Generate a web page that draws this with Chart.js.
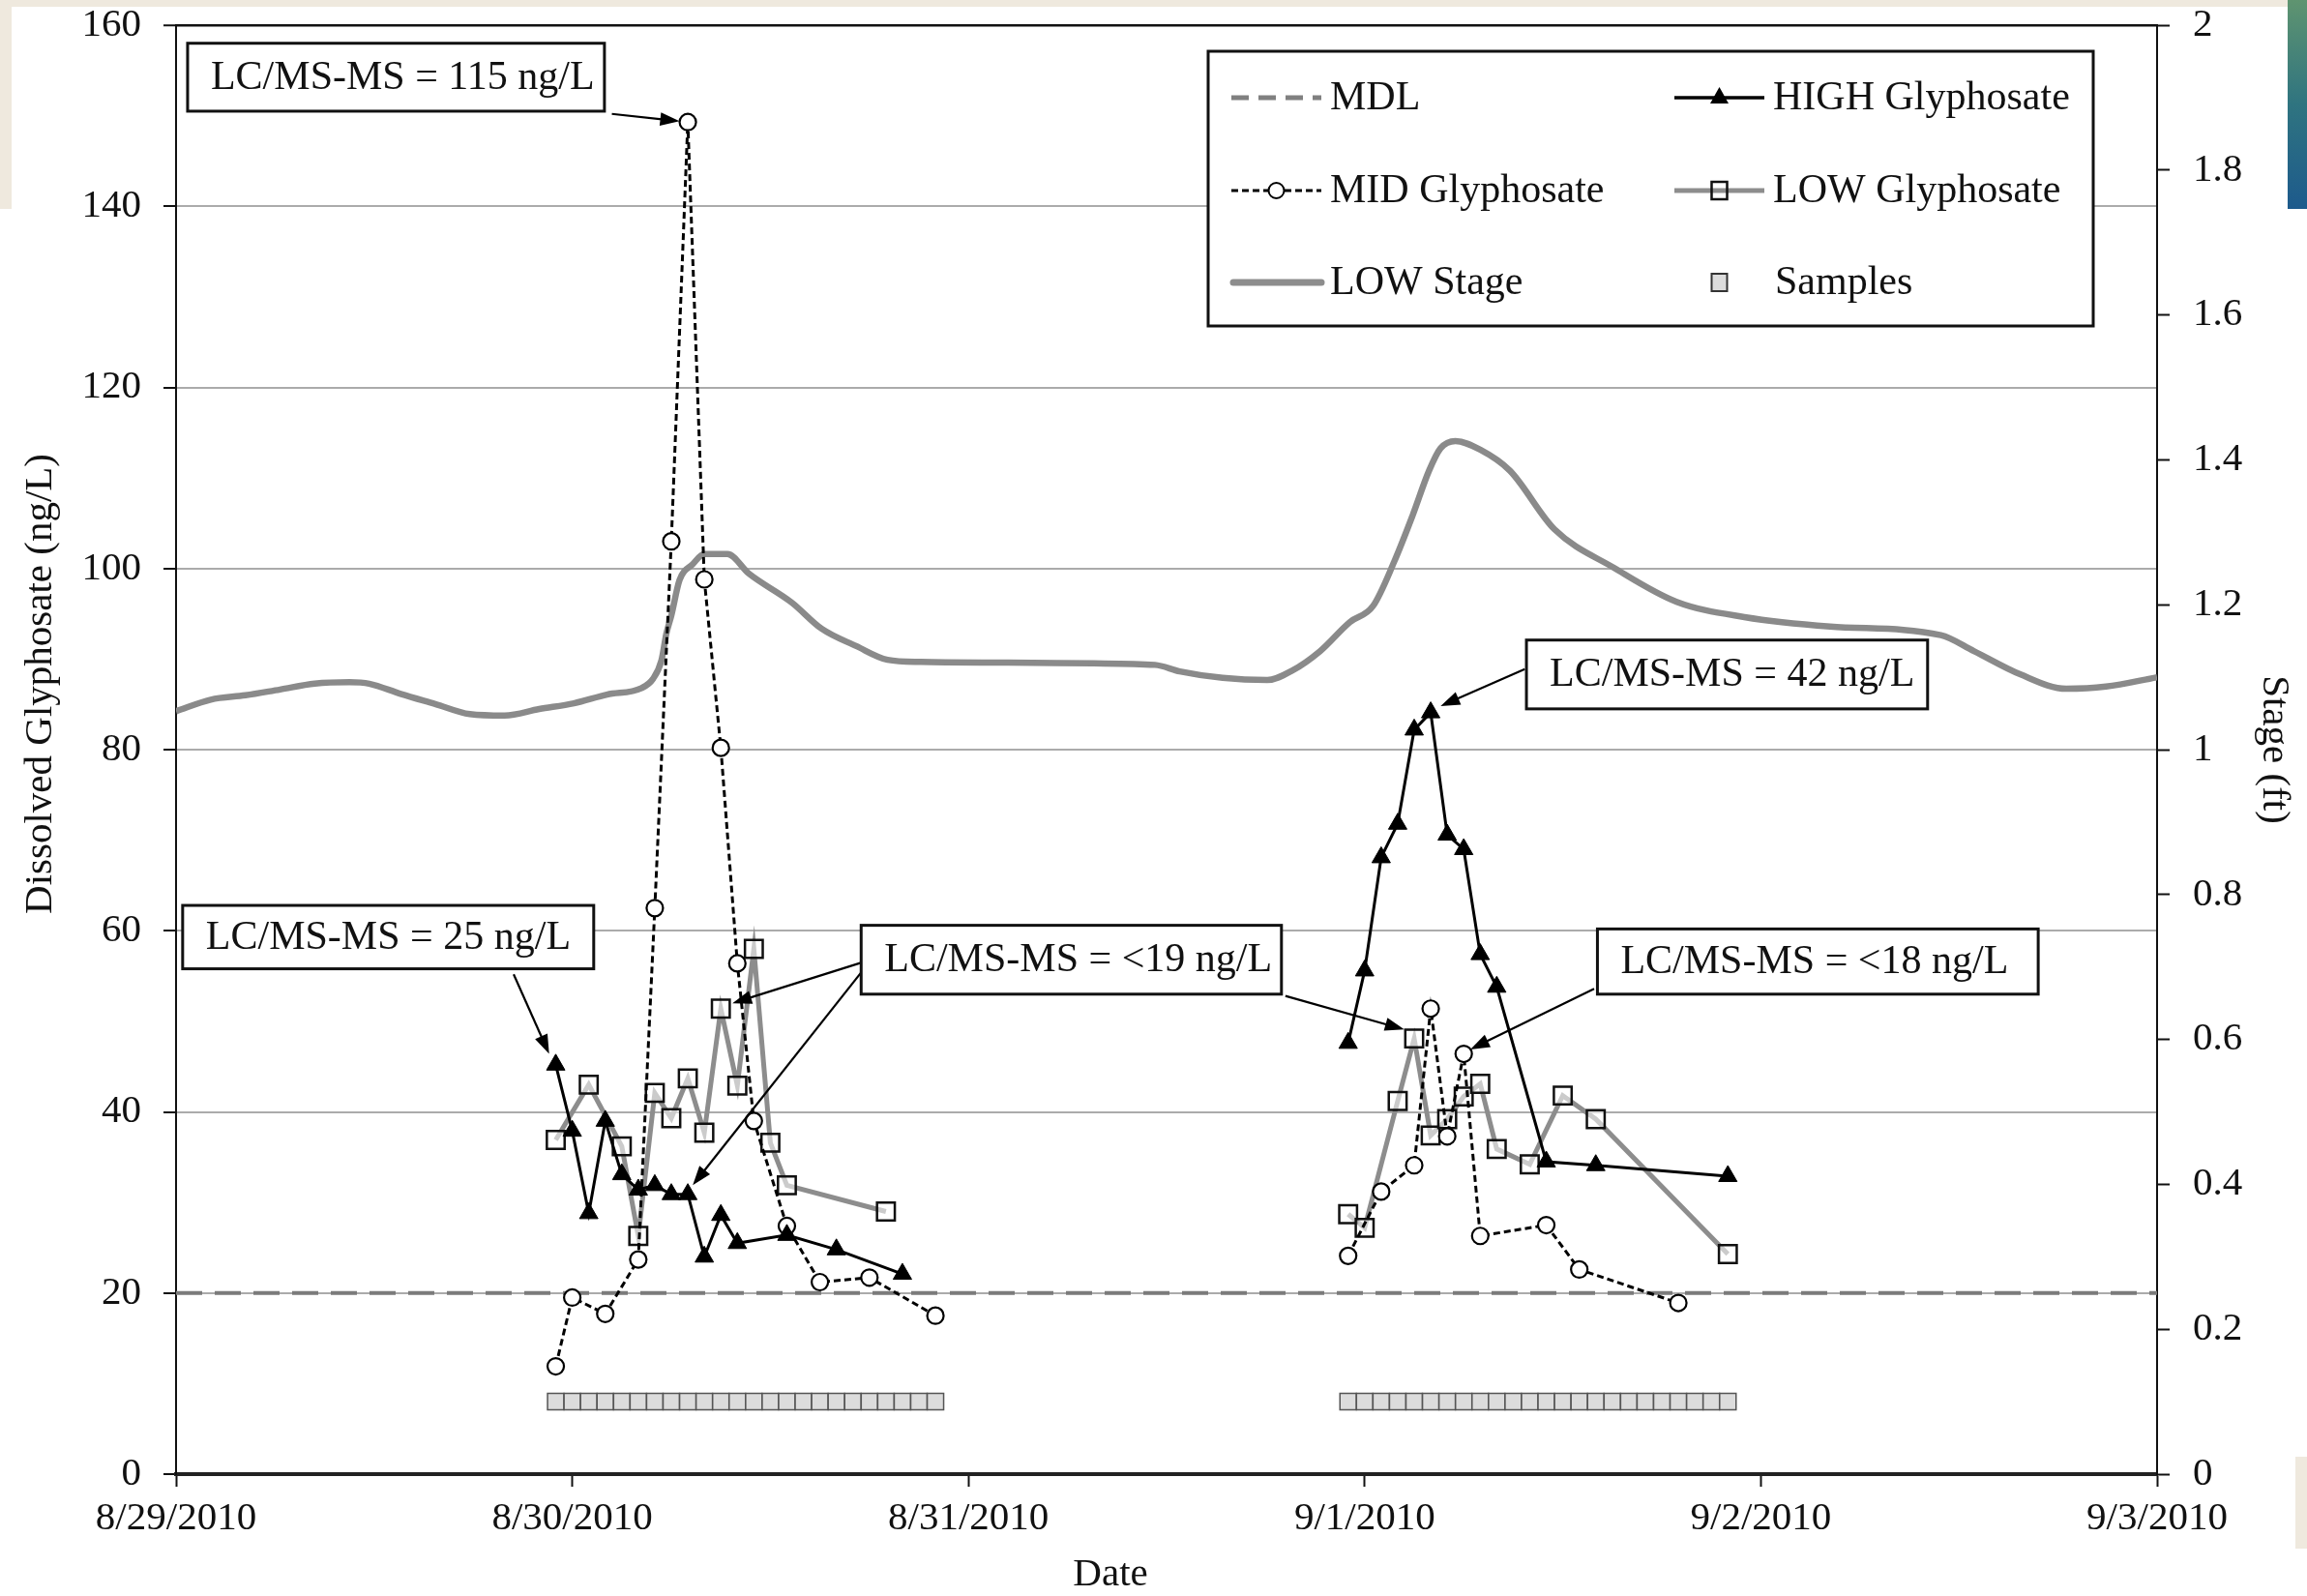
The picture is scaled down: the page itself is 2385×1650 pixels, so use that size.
<!DOCTYPE html>
<html>
<head>
<meta charset="utf-8">
<script src="https://cdn.jsdelivr.net/npm/chart.js@4.4.1/dist/chart.umd.min.js"></script>
<style>
  html, body { margin: 0; padding: 0; background: #ffffff; }
  #wrap { width: 2385px; height: 1650px; position: relative; }
  canvas { display: block; }
</style>
</head>
<body>
<div id="wrap"><canvas id="chart" width="2385" height="1650"></canvas></div>
<script>
// ---------------- DATA (hours since 8/29/2010 00:00) ----------------
const dateTickLabels = ['8/29/2010', '8/30/2010', '8/31/2010', '9/1/2010', '9/2/2010', '9/3/2010'];

const highHoursA  = [23, 24, 25, 26, 27, 28, 29, 30, 31, 32, 33, 34, 37, 40, 44];
const highValuesA = [45.2, 37.9, 28.8, 39.0, 33.1, 31.4, 31.9, 30.9, 30.9, 24.0, 28.6, 25.5, 26.4, 24.8, 22.1];
const highHoursB  = [71, 72, 73, 74, 75, 76, 77, 78, 79, 80, 83, 86, 94];
const highValuesB = [47.6, 55.6, 68.1, 71.8, 82.2, 84.1, 70.6, 69.0, 57.4, 53.8, 34.5, 34.1, 32.9];

const midHoursA  = [23, 24, 26, 28, 29, 30, 31, 32, 33, 34, 35, 37, 39, 42, 46];
const midValuesA = [11.9, 19.5, 17.7, 23.7, 62.5, 103.0, 149.3, 98.8, 80.2, 56.4, 39.0, 27.4, 21.2, 21.7, 17.5];
const midHoursB  = [71, 73, 75, 76, 77, 78, 79, 83, 85, 91];
const midValuesB = [24.1, 31.2, 34.1, 51.4, 37.3, 46.4, 26.3, 27.5, 22.6, 18.9];

const lowHoursA  = [23, 25, 27, 28, 29, 30, 31, 32, 33, 34, 35, 36, 37, 43];
const lowValuesA = [36.9, 43.0, 36.2, 26.3, 42.1, 39.3, 43.7, 37.7, 51.4, 42.9, 58.0, 36.6, 31.9, 29.0];
const lowHoursB  = [71, 72, 74, 75, 76, 77, 78, 79, 80, 82, 84, 86, 94];
const lowValuesB = [28.7, 27.2, 41.2, 48.1, 37.4, 39.2, 41.7, 43.1, 35.9, 34.2, 41.8, 39.2, 24.3];

const sampleHours = [23, 24, 25, 26, 27, 28, 29, 30, 31, 32, 33, 34, 35, 36, 37, 38, 39, 40, 41, 42, 43, 44, 45, 46,
                     71, 72, 73, 74, 75, 76, 77, 78, 79, 80, 81, 82, 83, 84, 85, 86, 87, 88, 89, 90, 91, 92, 93, 94];
const sampleLevels = [8, 8, 8, 8, 8, 8, 8, 8, 8, 8, 8, 8, 8, 8, 8, 8, 8, 8, 8, 8, 8, 8, 8, 8,
                      8, 8, 8, 8, 8, 8, 8, 8, 8, 8, 8, 8, 8, 8, 8, 8, 8, 8, 8, 8, 8, 8, 8, 8];

const mdlHours  = [0, 120];
const mdlValues = [20, 20];

const stageHours  = [0, 2.1, 4.2, 6.3, 8.4, 10.5, 11.7, 13.6, 15.7, 17.8, 19.9, 22.0, 24.1, 26.1, 28.2, 28.9, 29.4,
                     29.7, 30.0, 30.5, 31.3, 32.0, 33.4, 34.7, 37.3, 39.1, 41.2, 43.1, 45.1, 50.4, 55.6, 59.3, 60.8,
                     63.4, 66.1, 67.6, 69.3, 71.1, 72.5, 73.8, 74.9, 75.9, 76.6, 77.5, 79.0, 80.8, 83.5, 87.1, 90.9,
                     95.0, 100.2, 106.9, 108.9, 111.7, 114.5, 116.9, 120.0];
const stageValues = [1.053, 1.069, 1.075, 1.083, 1.091, 1.093, 1.091, 1.077, 1.063, 1.049, 1.047, 1.056, 1.064, 1.076,
                     1.085, 1.098, 1.123, 1.160, 1.185, 1.234, 1.256, 1.270, 1.270, 1.243, 1.203, 1.167, 1.143, 1.124,
                     1.121, 1.120, 1.119, 1.117, 1.108, 1.099, 1.096, 1.109, 1.136, 1.176, 1.198, 1.260, 1.323, 1.385,
                     1.416, 1.426, 1.414, 1.385, 1.304, 1.251, 1.204, 1.183, 1.170, 1.158, 1.136, 1.104, 1.084, 1.087, 1.100];

const legendNames = ['MDL', 'HIGH Glyphosate', 'MID Glyphosate', 'LOW Glyphosate', 'LOW Stage', 'Samples'];
const axisTitles = { x: 'Date', y: 'Dissolved Glyphosate (ng/L)', y2: 'Stage (ft)' };

// Callout boxes: [leftHour, topValue, rightHour, bottomValue]; arrows: [fromHour, fromValue, toHour, toValue]
const callouts = [
  { text: 'LC/MS-MS = 115 ng/L', box: [0.7, 158.0, 25.95, 150.5], arrows: [[26.4, 150.2, 30.5, 149.4]] },
  { text: 'LC/MS-MS = 25 ng/L',  box: [0.4, 62.8, 25.3, 55.8],    arrows: [[20.45, 55.2, 22.6, 46.4]] },
  { text: 'LC/MS-MS = <19 ng/L', box: [41.5, 60.6, 66.96, 53.0],  arrows: [[41.9, 56.7, 33.7, 52.0], [41.5, 55.4, 31.3, 31.9], [67.2, 52.8, 74.4, 49.1]] },
  { text: 'LC/MS-MS = 42 ng/L',  box: [81.8, 92.1, 106.1, 84.5],  arrows: [[81.7, 88.9, 76.6, 84.8]] },
  { text: 'LC/MS-MS = <18 ng/L', box: [86.1, 60.2, 112.8, 53.0],  arrows: [[85.9, 53.6, 78.4, 46.9]] }
];

// ---------------- helpers ----------------
function pts(hours, values) { return hours.map((h, i) => ({ x: h, y: values[i] })); }
function twoEvents(hA, vA, hB, vB) { return [...pts(hA, vA), { x: (hA[hA.length - 1] + hB[0]) / 2, y: null }, ...pts(hB, vB)]; }

const FONT = '"Liberation Serif", "Times New Roman", serif';
const GRAY_LINE = '#8d8d8d';

function noScalePadding(s) { s.paddingTop = 0; s.paddingBottom = 0; s.paddingLeft = 0; s.paddingRight = 0; }

function drawArrow(ctx, x1, y1, x2, y2) {
  const ang = Math.atan2(y2 - y1, x2 - x1);
  const hl = 20, hw = 7;
  ctx.beginPath();
  ctx.moveTo(x1, y1);
  ctx.lineTo(x2 - Math.cos(ang) * hl * 0.8, y2 - Math.sin(ang) * hl * 0.8);
  ctx.lineWidth = 2.2;
  ctx.strokeStyle = '#000';
  ctx.stroke();
  ctx.beginPath();
  ctx.moveTo(x2, y2);
  ctx.lineTo(x2 - Math.cos(ang) * hl + Math.sin(ang) * hw, y2 - Math.sin(ang) * hl - Math.cos(ang) * hw);
  ctx.lineTo(x2 - Math.cos(ang) * hl - Math.sin(ang) * hw, y2 - Math.sin(ang) * hl + Math.cos(ang) * hw);
  ctx.closePath();
  ctx.fillStyle = '#000';
  ctx.fill();
}

const backgroundPlugin = {
  id: 'pageBackground',
  beforeDraw(chart) {
    const ctx = chart.ctx;
    ctx.save();
    ctx.fillStyle = '#ffffff';
    ctx.fillRect(0, 0, chart.width, chart.height);
    // scan artefacts of the original figure
    ctx.fillStyle = '#efe9de';
    ctx.fillRect(0, 0, chart.width, 7);
    ctx.fillRect(0, 0, 12, 216);
    ctx.fillRect(chart.width - 12, 1506, 12, 95);
    const g = ctx.createLinearGradient(0, 0, 0, 216);
    g.addColorStop(0, '#5f9470');
    g.addColorStop(0.5, '#2f7480');
    g.addColorStop(1, '#1d5a8c');
    ctx.fillStyle = g;
    ctx.fillRect(chart.width - 20, 0, 20, 216);
    ctx.restore();
  }
};

const axisTitlePlugin = {
  id: 'axisTitles',
  afterDraw(chart) {
    const { ctx, chartArea } = chart;
    ctx.save();
    ctx.font = '41px ' + FONT;
    ctx.fillStyle = '#111';
    ctx.textAlign = 'center';
    ctx.textBaseline = 'middle';
    // left title
    ctx.save();
    ctx.translate(chartArea.left - 140, chartArea.top + chartArea.height * 0.4546);
    ctx.rotate(-Math.PI / 2);
    ctx.fillText(axisTitles.y, 0, 0);
    ctx.restore();
    // right title
    ctx.save();
    ctx.translate(chartArea.right + 121, chartArea.top + chartArea.height * 0.5);
    ctx.rotate(Math.PI / 2);
    ctx.fillText(axisTitles.y2, 0, 0);
    ctx.restore();
    // bottom title
    ctx.fillText(axisTitles.x, chartArea.left + chartArea.width * 0.4717, chartArea.bottom + 104);
    ctx.restore();
  }
};

const calloutPlugin = {
  id: 'callouts',
  afterDatasetsDraw(chart) {
    const { ctx } = chart;
    const xs = chart.scales.x, ys = chart.scales.y;
    ctx.save();
    callouts.forEach(c => {
      c.arrows.forEach(a => drawArrow(ctx, xs.getPixelForValue(a[0]), ys.getPixelForValue(a[1]),
                                           xs.getPixelForValue(a[2]), ys.getPixelForValue(a[3])));
    });
    callouts.forEach(c => {
      const l = xs.getPixelForValue(c.box[0]), t = ys.getPixelForValue(c.box[1]);
      const r = xs.getPixelForValue(c.box[2]), b = ys.getPixelForValue(c.box[3]);
      ctx.fillStyle = '#ffffff';
      ctx.fillRect(l, t, r - l, b - t);
      ctx.lineWidth = 3;
      ctx.strokeStyle = '#111';
      ctx.strokeRect(l, t, r - l, b - t);
      ctx.fillStyle = '#111';
      ctx.font = '42px ' + FONT;
      ctx.textAlign = 'left';
      ctx.textBaseline = 'middle';
      ctx.fillText(c.text, l + 24, (t + b) / 2 + 1);
    });
    ctx.restore();
  }
};

const legendPlugin = {
  id: 'customLegend',
  afterDraw(chart) {
    const { ctx, chartArea } = chart;
    const L = chartArea.right - 981, T = chartArea.top + 27, W = 915, H = 284;
    ctx.save();
    ctx.fillStyle = '#fff';
    ctx.fillRect(L, T, W, H);
    ctx.lineWidth = 3;
    ctx.strokeStyle = '#111';
    ctx.strokeRect(L, T, W, H);
    const rows = [T + 48, T + 144, T + 239];
    const c1 = L + 24, c2 = L + 482, sw = 93;
    ctx.font = '42px ' + FONT;
    ctx.fillStyle = '#111';
    ctx.textAlign = 'left';
    ctx.textBaseline = 'middle';
    // MDL
    ctx.setLineDash([18, 10]); ctx.lineWidth = 5; ctx.strokeStyle = '#808080';
    ctx.beginPath(); ctx.moveTo(c1, rows[0]); ctx.lineTo(c1 + sw, rows[0]); ctx.stroke();
    ctx.setLineDash([]);
    ctx.fillText(legendNames[0], c1 + sw + 9, rows[0] + 1);
    // HIGH
    ctx.lineWidth = 3.5; ctx.strokeStyle = '#000';
    ctx.beginPath(); ctx.moveTo(c2, rows[0]); ctx.lineTo(c2 + sw, rows[0]); ctx.stroke();
    const cx2 = c2 + sw / 2;
    ctx.beginPath(); ctx.moveTo(cx2, rows[0] - 11); ctx.lineTo(cx2 + 9.5, rows[0] + 6); ctx.lineTo(cx2 - 9.5, rows[0] + 6); ctx.closePath();
    ctx.fillStyle = '#000'; ctx.fill();
    ctx.fillStyle = '#111';
    ctx.fillText(legendNames[1], c2 + sw + 9, rows[0] + 1);
    // MID
    ctx.setLineDash([7, 4]); ctx.lineWidth = 3; ctx.strokeStyle = '#000';
    ctx.beginPath(); ctx.moveTo(c1, rows[1]); ctx.lineTo(c1 + sw, rows[1]); ctx.stroke();
    ctx.setLineDash([]);
    ctx.beginPath(); ctx.arc(c1 + sw / 2, rows[1], 8, 0, Math.PI * 2);
    ctx.fillStyle = '#fff'; ctx.fill(); ctx.lineWidth = 2; ctx.stroke();
    ctx.fillStyle = '#111';
    ctx.fillText(legendNames[2], c1 + sw + 9, rows[1] + 1);
    // LOW Glyphosate
    ctx.lineWidth = 5; ctx.strokeStyle = GRAY_LINE;
    ctx.beginPath(); ctx.moveTo(c2, rows[1]); ctx.lineTo(c2 + sw, rows[1]); ctx.stroke();
    ctx.lineWidth = 2.5; ctx.strokeStyle = '#111';
    ctx.strokeRect(cx2 - 8, rows[1] - 9, 16, 18);
    ctx.fillText(legendNames[3], c2 + sw + 9, rows[1] + 1);
    // LOW Stage
    ctx.lineWidth = 7; ctx.strokeStyle = GRAY_LINE; ctx.lineCap = 'round';
    ctx.beginPath(); ctx.moveTo(c1 + 2, rows[2]); ctx.lineTo(c1 + sw, rows[2]); ctx.stroke();
    ctx.lineCap = 'butt';
    ctx.fillText(legendNames[4], c1 + sw + 9, rows[2] + 1);
    // Samples
    ctx.fillStyle = '#dcdcdc'; ctx.fillRect(cx2 - 8, rows[2] - 9, 16, 18);
    ctx.lineWidth = 2; ctx.strokeStyle = '#333'; ctx.strokeRect(cx2 - 8, rows[2] - 9, 16, 18);
    ctx.fillStyle = '#111';
    ctx.fillText(legendNames[5], c2 + sw + 11, rows[2] + 1);
    ctx.restore();
  }
};

// ---------------- CHART ----------------
Chart.defaults.font.family = FONT;
Chart.defaults.color = '#111';

new Chart(document.getElementById('chart'), {
  type: 'line',
  data: {
    datasets: [
      {
        label: 'HIGH Glyphosate', order: 1,
        data: twoEvents(highHoursA, highValuesA, highHoursB, highValuesB),
        borderColor: '#000', borderWidth: 3, spanGaps: false,
        pointStyle: 'triangle', pointRadius: 11, pointBackgroundColor: '#000', pointBorderColor: '#000', pointBorderWidth: 1
      },
      {
        label: 'MID Glyphosate', order: 2,
        data: twoEvents(midHoursA, midValuesA, midHoursB, midValuesB),
        borderColor: '#000', borderWidth: 3, borderDash: [7, 4], spanGaps: false,
        pointStyle: 'circle', pointRadius: 8.5, pointBackgroundColor: '#fff', pointBorderColor: '#000', pointBorderWidth: 2.2
      },
      {
        label: 'LOW Glyphosate', order: 3,
        data: twoEvents(lowHoursA, lowValuesA, lowHoursB, lowValuesB),
        borderColor: GRAY_LINE, borderWidth: 5, spanGaps: false,
        pointStyle: 'rect', pointRadius: 13, pointBackgroundColor: 'rgba(255,255,255,0.55)', pointBorderColor: '#111', pointBorderWidth: 2.5
      },
      {
        label: 'Samples', order: 4,
        data: pts(sampleHours, sampleLevels),
        showLine: false,
        pointStyle: 'rect', pointRadius: 12, pointBackgroundColor: '#dcdcdc', pointBorderColor: '#555', pointBorderWidth: 1.5
      },
      {
        label: 'MDL', order: 5,
        data: pts(mdlHours, mdlValues),
        borderColor: '#7b7b7b', borderWidth: 4, borderDash: [27, 13], pointRadius: 0
      },
      {
        label: 'LOW Stage', order: 6, yAxisID: 'y2',
        data: pts(stageHours, stageValues),
        borderColor: '#8a8a8a', borderWidth: 6.5, pointRadius: 0, cubicInterpolationMode: 'monotone'
      }
    ]
  },
  options: {
    responsive: false,
    animation: false,
    devicePixelRatio: 1,
    layout: { padding: { top: 26, left: 0, right: 0, bottom: 0 } },
    plugins: { legend: { display: false }, tooltip: { enabled: false } },
    scales: {
      x: {
        type: 'linear', min: 0, max: 120,
        afterFit: s => { s.height = 126; noScalePadding(s); },
        ticks: {
          stepSize: 24, padding: 9, maxRotation: 0, autoSkip: false,
          font: { size: 41 }, color: '#111',
          callback: v => dateTickLabels[Math.round(v / 24)]
        },
        grid: { display: true, drawOnChartArea: false, drawTicks: true, tickLength: 13, tickColor: '#111', tickWidth: 2 },
        border: { display: true, color: '#222', width: 4 },
        title: { display: false, text: axisTitles.x }
      },
      y: {
        position: 'left', min: 0, max: 160,
        afterFit: s => { s.width = 182; noScalePadding(s); },
        ticks: { stepSize: 20, padding: 23, font: { size: 41 }, color: '#111' },
        grid: {
          display: true, drawOnChartArea: true, drawTicks: true, tickLength: 13,
          color: ctx => (ctx.tick && ctx.tick.value === 160) ? '#111' : '#ababab',
          lineWidth: ctx => (ctx.tick && ctx.tick.value === 160) ? 2.5 : 2,
          tickColor: '#111', tickWidth: 2
        },
        border: { display: true, color: '#111', width: 2 },
        title: { display: false, text: axisTitles.y }
      },
      y2: {
        position: 'right', min: 0, max: 2,
        afterFit: s => { s.width = 155; noScalePadding(s); },
        ticks: { stepSize: 0.2, padding: 24, font: { size: 41 }, color: '#111',
                 callback: v => String(Number(v.toFixed(1))) },
        grid: { display: true, drawOnChartArea: false, drawTicks: true, tickLength: 13, tickColor: '#111', tickWidth: 2 },
        border: { display: true, color: '#111', width: 2 },
        title: { display: false, text: axisTitles.y2 }
      }
    }
  },
  plugins: [backgroundPlugin, calloutPlugin, legendPlugin, axisTitlePlugin]
});
</script>
</body>
</html>
